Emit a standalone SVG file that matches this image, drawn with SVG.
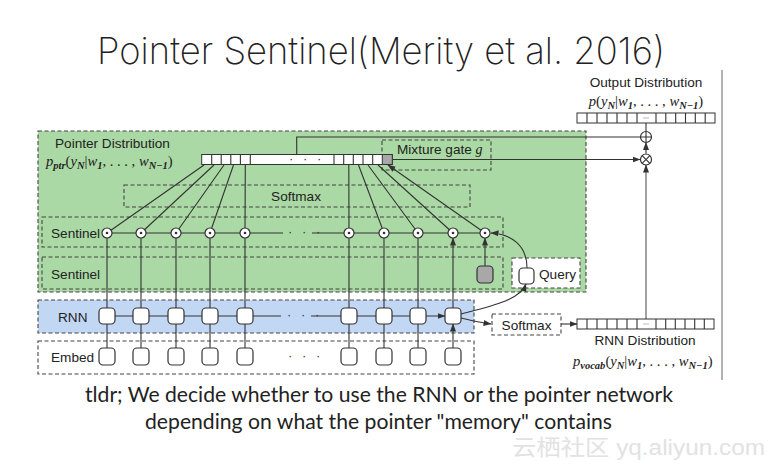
<svg xmlns="http://www.w3.org/2000/svg" width="780" height="472" viewBox="0 0 780 472">
<defs>
<marker id="ah" markerUnits="userSpaceOnUse" markerWidth="8" markerHeight="7" refX="7.5" refY="3.5" orient="auto">
<path d="M0,0.5 L8,3.5 L0,6.5 z" fill="#333"/>
</marker>
<style>
.lbl{font-family:"Liberation Sans",Arial,sans-serif;font-size:13.6px;fill:#222}
.m{font-family:"Liberation Serif","Times New Roman",serif;font-size:14.6px;fill:#222}
.i{font-style:italic}
.s{font-size:10.5px;font-style:italic;font-weight:bold}
.dash{stroke:#444;stroke-width:1.1;stroke-dasharray:4 2.5;fill:none}
.ln{stroke:#333;stroke-width:1.1;fill:none}
.ar{stroke:#333;stroke-width:1.1;fill:none;marker-end:url(#ah)}
.box{fill:#fff;stroke:#333;stroke-width:1.2}
.cell{fill:#fff;stroke:#333;stroke-width:1}
.circ{fill:#fff;stroke:#333;stroke-width:1.2}
.dot{fill:#333}
.dots{font-family:"Liberation Sans",Arial,sans-serif;font-size:13px;fill:#333;letter-spacing:3px}
.big{font-family:Lato,"Open Sans",sans-serif;fill:#222}
</style>
</defs>
<rect width="780" height="472" fill="#fff"/>

<text x="97" y="64" font-family="Inter,Lato,sans-serif" font-weight="200" font-size="37" fill="#222" textLength="568" lengthAdjust="spacingAndGlyphs">Pointer Sentinel(Merity et al. 2016)</text>

<line x1="722" y1="70" x2="722" y2="380" stroke="#999" stroke-width="1.5"/>

<g id="pointer-region">
<rect x="38" y="131" width="548" height="161" fill="#abd9a5" stroke="#444" stroke-width="1.1" stroke-dasharray="4 2.5"/>
<text class="lbl" x="55" y="148">Pointer Distribution</text>
<text class="m" x="46" y="166"><tspan class="i">p</tspan><tspan class="s" dy="3">ptr</tspan><tspan dy="-3">(</tspan><tspan class="i">y</tspan><tspan class="s" dy="3">N</tspan><tspan dy="-3">|</tspan><tspan class="i">w</tspan><tspan class="s" dy="3">1</tspan><tspan dy="-3">, . . . , </tspan><tspan class="i">w</tspan><tspan class="s" dy="3">N−1</tspan><tspan dy="-3">)</tspan></text>
</g>

<g id="softmax-top">
<rect x="124" y="185" width="346" height="22" class="dash"/>
<text class="lbl" x="296" y="201" text-anchor="middle">Softmax</text>
</g>

<g id="sentinel-row">
<rect x="42" y="217" width="461" height="30" class="dash"/>
<text class="lbl" x="51" y="238">Sentinel</text>
</g>

<g id="sentinel-row2">
<rect x="42" y="257" width="461" height="32" class="dash"/>
<text class="lbl" x="51" y="279">Sentinel</text>
<rect x="477" y="266" width="16" height="17" rx="4" fill="#a8a8a8" stroke="#333" stroke-width="1.2"/>
</g>

<g id="query">
<rect x="512" y="258" width="68" height="30" fill="#fff" stroke="#444" stroke-width="1.1" stroke-dasharray="4 2.5"/>
<rect x="519" y="268" width="15" height="16" rx="4" class="box"/>
<text class="lbl" x="539" y="279">Query</text>
</g>

<g id="rnn-row">
<rect x="38" y="300" width="436" height="33" fill="#c2d7f4" stroke="#444" stroke-width="1.1" stroke-dasharray="4 2.5"/>
<text class="lbl" x="58" y="322">RNN</text>
</g>

<g id="embed-row">
<rect x="38" y="341" width="436" height="33" fill="#fff" stroke="#444" stroke-width="1.1" stroke-dasharray="4 2.5"/>
<text class="lbl" x="51" y="362">Embed</text>
<text class="dots" x="288" y="360">· · ·</text>
</g>

<g id="mixture-gate">
<rect x="382" y="140" width="109" height="30" class="dash"/>
<text class="lbl" x="397" y="154">Mixture gate <tspan font-family="Liberation Serif,serif" font-style="italic" font-size="14">g</tspan></text>
</g>

<g id="softmax-bottom">
<rect x="492" y="314" width="69" height="21" fill="#fff" stroke="#444" stroke-width="1.1" stroke-dasharray="4 2.5"/>
<text class="lbl" x="526.5" y="329.5" text-anchor="middle">Softmax</text>
</g>

<g id="connectors">
<path class="ar" d="M107,348 V324 M141,348 V324 M176,348 V324 M210,348 V324 M245,348 V324 M349,348 V324 M384,348 V324 M418,348 V324 M453,348 V324"/>
<path class="ar" d="M115,316 H133 M149,316 H168 M184,316 H202 M218,316 H237 M253,316 H281 M311,316 H341 M357,316 H376 M392,316 H410 M426,316 H445"/>
<text class="dots" x="287" y="319">· · ·</text>
<path class="ar" d="M107,308 V238 M141,308 V238 M176,308 V238 M210,308 V238 M245,308 V238 M349,308 V238 M384,308 V238 M418,308 V238 M453,308 V238"/>
<path class="ar" d="M485,266 V238"/>
<path class="ln" d="M107,233 H283 M312,233 H485"/>
<text class="dots" x="288" y="236">· · ·</text>
<path class="ar" d="M107,233 L204,165 M141,233 L214,165 M176,233 L224,165 M210,233 L233.5,165 M245,233 L245.3,165 M349,233 L348.8,165 M384,233 L358.5,165 M418,233 L368,165 M453,233 L378,165 M485,233 L388,165"/>
<path class="ar" d="M461,314 C492,306 520,300 526,284"/>
<path class="ar" d="M461,318 Q476,322 491,324"/>
<path class="ar" d="M527,268 C527,246 512,234 491,233"/>
<path class="ar" d="M561,324 H577"/>
<path class="ln" d="M296.7,154.5 V137 H640.5"/>
<path class="ar" d="M392.3,159.5 H640"/>
<path class="ar" d="M646,319 V165" style="stroke:#555"/>
<path class="ar" d="M646,153.5 V142.5"/>
<path class="ln" d="M646,131 V123"/>
</g>

<g id="rnn-cells">
<rect x="99" y="308" width="16" height="16" rx="4" class="box"/>
<rect x="133" y="308" width="16" height="16" rx="4" class="box"/>
<rect x="168" y="308" width="16" height="16" rx="4" class="box"/>
<rect x="202" y="308" width="16" height="16" rx="4" class="box"/>
<rect x="237" y="308" width="16" height="16" rx="4" class="box"/>
<rect x="341" y="308" width="16" height="16" rx="4" class="box"/>
<rect x="376" y="308" width="16" height="16" rx="4" class="box"/>
<rect x="410" y="308" width="16" height="16" rx="4" class="box"/>
<rect x="445" y="308" width="16" height="16" rx="4" class="box"/>
</g>

<g id="embed-cells">
<rect x="99" y="348" width="16" height="17" rx="4" class="box"/>
<rect x="133" y="348" width="16" height="17" rx="4" class="box"/>
<rect x="168" y="348" width="16" height="17" rx="4" class="box"/>
<rect x="202" y="348" width="16" height="17" rx="4" class="box"/>
<rect x="237" y="348" width="16" height="17" rx="4" class="box"/>
<rect x="341" y="348" width="16" height="17" rx="4" class="box"/>
<rect x="376" y="348" width="16" height="17" rx="4" class="box"/>
<rect x="410" y="348" width="16" height="17" rx="4" class="box"/>
<rect x="445" y="348" width="16" height="17" rx="4" class="box"/>
</g>

<g id="sentinel-circles">
<circle cx="107" cy="233" r="5" class="circ"/><circle cx="107" cy="233" r="1.3" class="dot"/>
<circle cx="141" cy="233" r="5" class="circ"/><circle cx="141" cy="233" r="1.3" class="dot"/>
<circle cx="176" cy="233" r="5" class="circ"/><circle cx="176" cy="233" r="1.3" class="dot"/>
<circle cx="210" cy="233" r="5" class="circ"/><circle cx="210" cy="233" r="1.3" class="dot"/>
<circle cx="245" cy="233" r="5" class="circ"/><circle cx="245" cy="233" r="1.3" class="dot"/>
<circle cx="349" cy="233" r="5" class="circ"/><circle cx="349" cy="233" r="1.3" class="dot"/>
<circle cx="384" cy="233" r="5" class="circ"/><circle cx="384" cy="233" r="1.3" class="dot"/>
<circle cx="418" cy="233" r="5" class="circ"/><circle cx="418" cy="233" r="1.3" class="dot"/>
<circle cx="453" cy="233" r="5" class="circ"/><circle cx="453" cy="233" r="1.3" class="dot"/>
<circle cx="485" cy="233" r="5" class="circ"/><circle cx="485" cy="233" r="1.3" class="dot"/>
</g>

<g id="pointer-bar">
<rect x="201.7" y="154.5" width="190.6" height="10" class="cell"/>
<path class="ln" d="M211.7,154.5 V164.5 M221.2,154.5 V164.5 M230.8,154.5 V164.5 M240.4,154.5 V164.5 M250.3,154.5 V164.5 M334,154.5 V164.5 M343.7,154.5 V164.5 M353.3,154.5 V164.5 M363,154.5 V164.5 M372.7,154.5 V164.5"/>
<rect x="382.3" y="154.5" width="10" height="10" fill="#a8a8a8" stroke="#333" stroke-width="1"/>
<text class="dots" x="289" y="163" font-size="10">· · ·</text>
</g>

<g id="combine">
<circle cx="646" cy="137" r="5.5" class="circ"/>
<path class="ln" d="M640.5,137 H651.5 M646,131.5 V142.5"/>
<circle cx="646" cy="159.5" r="5.5" class="circ"/>
<path class="ln" d="M642.1,155.6 L649.9,163.4 M649.9,155.6 L642.1,163.4"/>
</g>

<g id="output-dist">
<text class="lbl" x="646" y="87" text-anchor="middle">Output Distribution</text>
<text class="m" x="646" y="106" text-anchor="middle"><tspan class="i">p</tspan><tspan>(</tspan><tspan class="i">y</tspan><tspan class="s" dy="3">N</tspan><tspan dy="-3">|</tspan><tspan class="i">w</tspan><tspan class="s" dy="3">1</tspan><tspan dy="-3">, . . . , </tspan><tspan class="i">w</tspan><tspan class="s" dy="3">N−1</tspan><tspan dy="-3">)</tspan></text>
<rect x="577" y="113" width="138" height="10" class="cell"/>
<path class="ln" d="M587,113 V123 M597,113 V123 M607,113 V123 M617,113 V123 M627,113 V123 M637,113 V123 M656,113 V123 M665.8,113 V123 M675.7,113 V123 M685.5,113 V123 M695.3,113 V123 M705.2,113 V123"/>
<line x1="643" y1="118" x2="649" y2="118" stroke="#bbb" stroke-width="1"/>
</g>

<g id="rnn-dist">
<rect x="577" y="319" width="137" height="10" class="cell"/>
<path class="ln" d="M587,319 V329 M597,319 V329 M607,319 V329 M617,319 V329 M627,319 V329 M637,319 V329 M656,319 V329 M665.7,319 V329 M675.3,319 V329 M685,319 V329 M694.7,319 V329 M704.3,319 V329"/>
<line x1="643" y1="324" x2="649" y2="324" stroke="#bbb" stroke-width="1"/>
<text class="lbl" x="645" y="345" text-anchor="middle">RNN Distribution</text>
<text class="m" x="573" y="366"><tspan class="i">p</tspan><tspan class="s" dy="3">vocab</tspan><tspan dy="-3">(</tspan><tspan class="i">y</tspan><tspan class="s" dy="3">N</tspan><tspan dy="-3">|</tspan><tspan class="i">w</tspan><tspan class="s" dy="3">1</tspan><tspan dy="-3">, . . . , </tspan><tspan class="i">w</tspan><tspan class="s" dy="3">N−1</tspan><tspan dy="-3">)</tspan></text>
</g>

<text class="big" x="85" y="402" font-size="21.5" textLength="588" lengthAdjust="spacingAndGlyphs">tldr; We decide whether to use the RNN or the pointer network</text>
<text class="big" x="145" y="429" font-size="21.5" textLength="467" lengthAdjust="spacingAndGlyphs">depending on what the pointer "memory" contains</text>
<text x="512" y="455" font-family="'Liberation Sans','Noto Sans CJK SC',sans-serif" font-size="22" fill="#e2e2e2" textLength="253" lengthAdjust="spacingAndGlyphs">云栖社区 yq.aliyun.com</text>
</svg>
